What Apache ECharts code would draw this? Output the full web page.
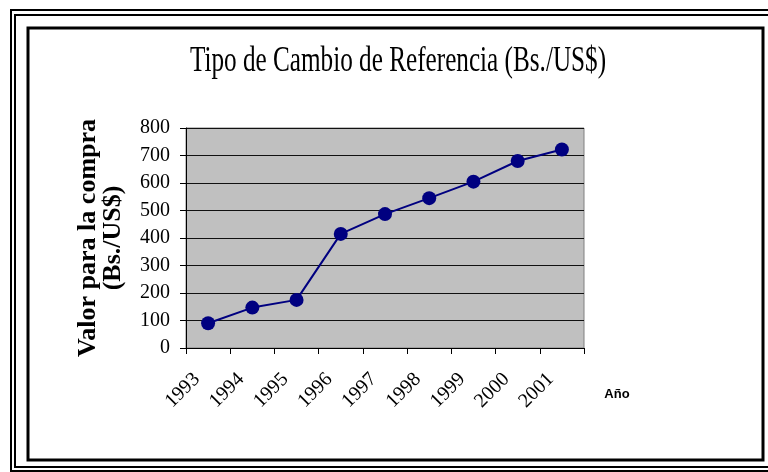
<!DOCTYPE html>
<html>
<head>
<meta charset="utf-8">
<script src="https://cdn.jsdelivr.net/npm/echarts@6/dist/echarts.min.js"></script>
<style>
  html, body { margin: 0; padding: 0; background: #fff; }
  #grafico { width: 768px; height: 472px; }
</style>
</head>
<body>
<div id="grafico"></div>
<script>
// datos
var anios = ['1993', '1994', '1995', '1996', '1997', '1998', '1999', '2000', '2001']
var valorCompra = [90, 147, 175, 415, 487, 545, 605, 680, 722]
var ejeY = { min: 0, max: 800, intervalo: 100 }
var titulo = 'Tipo de Cambio de Referencia (Bs./US$)'

var chart = echarts.init(document.getElementById('grafico'))
var serif = 'Liberation Serif'

var option = {
  backgroundColor: '#ffffff',
  animation: false,
  graphic: [
    // marcos dobles alrededor del grafico
    { type: 'rect', shape: { x: 11, y: 10, width: 800, height: 461 }, style: { fill: 'none', stroke: '#000', lineWidth: 2 } },
    { type: 'rect', shape: { x: 15, y: 15, width: 800, height: 452 }, style: { fill: 'none', stroke: '#000', lineWidth: 2 } },
    { type: 'rect', shape: { x: 28, y: 28, width: 735, height: 432 }, style: { fill: 'none', stroke: '#000', lineWidth: 3 } },
    // titulo estrecho como en el original
    {
      type: 'text', x: 398, y: 62, scaleX: 0.7,
      style: { text: titulo, fontFamily: serif, fontSize: 36, fill: '#000', textAlign: 'center', textVerticalAlign: 'middle' }
    },
    {
      type: 'text', x: 617, y: 394,
      style: { text: 'Año', fontFamily: 'Liberation Sans', fontSize: 13, fontWeight: 'bold', fill: '#000', textAlign: 'center', textVerticalAlign: 'middle' }
    }
  ],
  grid: {
    left: 186,
    right: 184,
    top: 128,
    bottom: 124,
    show: true,
    backgroundColor: '#c0c0c0',
    borderColor: '#808080',
    borderWidth: 1
  },
  xAxis: {
    type: 'category',
    boundaryGap: true,
    data: anios,
    axisLine: { lineStyle: { color: '#000', width: 1 } },
    axisTick: { show: true, length: 6, lineStyle: { color: '#000' } },
    axisLabel: { rotate: 45, fontFamily: serif, fontSize: 20, color: '#000', margin: 17, padding: [0, 16, 0, 0] },
    splitLine: { show: false }
  },
  yAxis: {
    type: 'value',
    min: ejeY.min,
    max: ejeY.max,
    interval: ejeY.intervalo,
    name: 'Valor para la compra\n(Bs./US$)',
    nameLocation: 'middle',
    nameRotate: 90,
    nameGap: 60,
    nameTextStyle: { fontFamily: serif, fontSize: 26, fontWeight: 'bold', color: '#000', lineHeight: 25 },
    axisLine: { show: true, lineStyle: { color: '#000', width: 1 } },
    axisTick: { show: true, length: 6, lineStyle: { color: '#000' } },
    axisLabel: { fontFamily: serif, fontSize: 20, color: '#000', margin: 16 },
    splitLine: { show: true, lineStyle: { color: '#111', width: 1 } }
  },
  series: [
    {
      name: 'Valor para la compra',
      type: 'line',
      data: valorCompra,
      symbol: 'circle',
      symbolSize: 14,
      lineStyle: { color: '#000080', width: 2 },
      itemStyle: { color: '#000080' }
    }
  ]
}

chart.setOption(option)
</script>
</body>
</html>
